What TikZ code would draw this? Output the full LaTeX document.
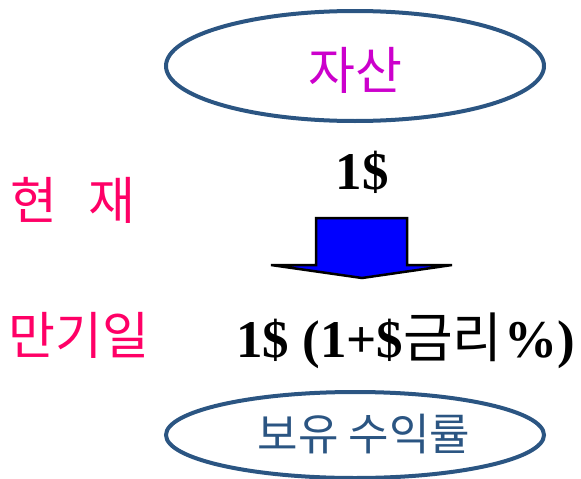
\documentclass[tikz,border=0pt]{standalone}
\usepackage{fontspec}
\setmainfont{Liberation Serif}
\newfontfamily\kr{Noto Sans CJK KR}
\definecolor{ellblue}{HTML}{2B5582}
\definecolor{magtext}{HTML}{CC00CC}
\definecolor{pinktext}{HTML}{FF0066}
\definecolor{arrowblue}{HTML}{0000FF}
\tikzset{
  ellbox/.style={ellipse, draw=ellblue, line width=4pt, inner sep=0pt},
  pinklabel/.style={text=pinktext, font=\kr\fontsize{51}{55}\selectfont, inner sep=0pt, anchor=west},
  boldval/.style={font=\bfseries\fontsize{53}{57}\selectfont, inner sep=0pt},
}
\usetikzlibrary{shapes.geometric}
\begin{document}
\begin{tikzpicture}[x=1pt,y=-1pt]
\useasboundingbox (0,0) rectangle (581,479);
% top ellipse
\node[ellbox, minimum width=378pt, minimum height=110pt] (asset) at (355,66) {};
\node[text=magtext, font=\kr\fontsize{51}{55}\selectfont, inner sep=0pt] (assetlbl) at (355,70) {자산};
% left labels
\node[pinklabel] (now) at (10,200) {현\hspace{31pt}재};
\node[pinklabel] (mat) at (8,335) {만기일};
% values
\node[boldval] (one) at (362,172) {1\$};
\node[boldval, anchor=base west] (formula) at (236,357) {1\$ (1+\$\mdseries{\kr\fontsize{54}{58}\selectfont 금리}\hspace{2pt}\bfseries\%)};
% block arrow
\coordinate (arrowtop) at (362,218);
\draw[fill=arrowblue, line width=2.5pt, line join=miter]
  (316,218) -- (407,218) -- (407,265) -- (452,265) -- (362,278) -- (271,265) -- (316,265) -- cycle;
% bottom ellipse
\node[ellbox, minimum width=378pt, minimum height=86pt] (ret) at (355,435) {};
\node[text=ellblue, font=\kr\fontsize{44}{48}\selectfont, inner sep=0pt] (retlbl) at (364,434) {보유 수익률};
\end{tikzpicture}
\end{document}
